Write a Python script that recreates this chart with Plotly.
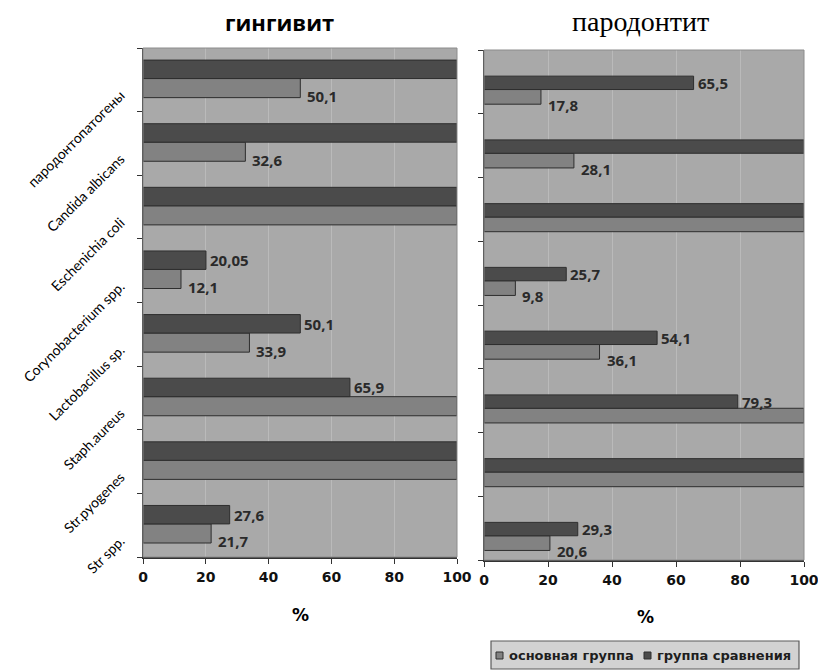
import plotly.graph_objects as go

# ---- data (bottom to top) ----
categories = ["Str spp.", "Str.pyogenes", "Staph.aureus", "Lactobacillus sp.",
              "Corynobacterium spp.", "Eschenichia coli", "Candida albicans",
              "пародонтопатогены"]
series_names = ["основная группа", "группа сравнения"]

ging_main = [21.7, 100, 100, 33.9, 12.1, 100, 32.6, 50.1]
ging_comp = [27.6, 100, 65.9, 50.1, 20.05, 100, 100, 100]
ging_comp_txt = ["27,6", "", "65,9", "50,1", "20,05", "", "", ""]
ging_main_txt = ["21,7", "", "", "33,9", "12,1", "", "32,6", "50,1"]

par_main = [20.6, 100, 100, 36.1, 9.8, 100, 28.1, 17.8]
par_comp = [29.3, 100, 79.3, 54.1, 25.7, 100, 100, 65.5]
par_comp_txt = ["29,3", "", "79,3", "54,1", "25,7", "", "", "65,5"]
par_main_txt = ["20,6", "", "", "36,1", "9,8", "", "28,1", "17,8"]

x_ticks = [0, 20, 40, 60, 80, 100]
titles = ["гингивит", "пародонтит"]
x_title = "%"

# ---- style / geometry (screen pixels; body margin removed by post_script) ----
W, H = 818, 672
LIGHT = "#828282"
DARK = "#4b4b4b"
EDGE = "#2e2e2e"
BG = "#a9a9a9"
GRID = "#bababa"


def fx(px):
    return px / W


def fy(py):
    return 1 - py / H


fig = go.Figure()

panels = [
    dict(main=ging_main, comp=ging_comp, mt=ging_main_txt, ct=ging_comp_txt,
         xa="x", ya="y", dom_x=[fx(143), fx(457)], dom_y=[fy(557), fy(48)],
         comp_off=0.02, comp_w=0.29, main_off=-0.28, main_w=0.30),
    dict(main=par_main, comp=par_comp, mt=par_main_txt, ct=par_comp_txt,
         xa="x2", ya="y2", dom_x=[fx(484), fx(804)], dom_y=[fy(560), fy(50)],
         comp_off=-0.12, comp_w=0.21, main_off=-0.35, main_w=0.23),
]

LABEL_FONT = dict(family="Open Sans", size=15, color="#2a2a2a", weight="bold")

annotations = []
for p in panels:
    fig.add_trace(go.Bar(
        y=categories, x=p["main"], orientation="h", name=series_names[0],
        marker=dict(color=LIGHT, line=dict(color=EDGE, width=1)),
        offset=p["main_off"], width=p["main_w"], xaxis=p["xa"], yaxis=p["ya"],
        showlegend=False))
    fig.add_trace(go.Bar(
        y=categories, x=p["comp"], orientation="h", name=series_names[1],
        marker=dict(color=DARK, line=dict(color=EDGE, width=1)),
        offset=p["comp_off"], width=p["comp_w"], xaxis=p["xa"], yaxis=p["ya"],
        showlegend=False))
    cat_px = (p["dom_y"][1] - p["dom_y"][0]) * H / len(categories)
    comp_c = (p["comp_off"] + p["comp_w"] / 2) * cat_px
    main_c = (p["main_off"] + p["main_w"] / 2) * cat_px - 8
    for cat, v, t in zip(categories, p["comp"], p["ct"]):
        if t:
            annotations.append(dict(x=v, y=cat, xref=p["xa"], yref=p["ya"], text=t,
                                    showarrow=False, xanchor="left", yanchor="middle",
                                    xshift=2, yshift=comp_c, font=LABEL_FONT))
    for cat, v, t in zip(categories, p["main"], p["mt"]):
        if t:
            annotations.append(dict(x=v, y=cat, xref=p["xa"], yref=p["ya"], text=t,
                                    showarrow=False, xanchor="left", yanchor="middle",
                                    xshift=5, yshift=main_c, font=LABEL_FONT))

# titles and axis titles
annotations.append(dict(text=titles[0], x=fx(279), y=fy(22), xref="paper", yref="paper",
                        showarrow=False, xanchor="center", yanchor="middle",
                        font=dict(family="Open Sans", size=22, color="black", weight="bold")))
annotations.append(dict(text=titles[1], x=fx(640), y=fy(21), xref="paper", yref="paper",
                        showarrow=False, xanchor="center", yanchor="middle",
                        font=dict(family="Liberation Serif", size=28, color="black")))
for cx, cy in [(300, 615), (645, 617)]:
    annotations.append(dict(text=x_title, x=fx(cx), y=fy(cy), xref="paper", yref="paper",
                            showarrow=False, xanchor="center", yanchor="middle",
                            font=dict(family="DejaVu Sans", size=17, color="black", weight="bold")))

# manual legend (box, swatches, texts)
LEG_FONT = dict(family="DejaVu Sans", size=13, color="#1e1e1e", weight="bold")
annotations.append(dict(text=series_names[0], x=fx(507), y=fy(655), xref="paper", yref="paper",
                        showarrow=False, xanchor="left", yanchor="middle", font=LEG_FONT))
annotations.append(dict(text=series_names[1], x=fx(655), y=fy(655), xref="paper", yref="paper",
                        showarrow=False, xanchor="left", yanchor="middle", font=LEG_FONT))

shapes = [
    dict(type="rect", xref="paper", yref="paper", x0=fx(491), x1=fx(799), y0=fy(669), y1=fy(641),
         fillcolor="#d2d2d2", line=dict(color="#5a5a5a", width=1.2)),
    dict(type="rect", xref="paper", yref="paper", x0=fx(496), x1=fx(503), y0=fy(659), y1=fy(652),
         fillcolor=LIGHT, line=dict(color=EDGE, width=1)),
    dict(type="rect", xref="paper", yref="paper", x0=fx(644), x1=fx(651), y0=fy(659), y1=fy(652),
         fillcolor=DARK, line=dict(color=EDGE, width=1)),
]
for p in panels:
    shapes.append(dict(type="rect", xref=p["xa"] + " domain", yref=p["ya"] + " domain",
                       x0=0, x1=1, y0=0, y1=1, line=dict(color="#8c8c8c", width=1), layer="above"))

xaxis_common = dict(range=[0, 100], tickvals=x_ticks, ticks="outside", ticklen=5,
                    tickcolor="#333", showline=True, linecolor="#333", linewidth=1.5,
                    showgrid=True, gridcolor=GRID, gridwidth=1, zeroline=False,
                    ticklabelstandoff=2, ticklabeloverflow="allow",
                    tickfont=dict(family="DejaVu Sans", size=14, color="#111", weight="bold"),
                    fixedrange=True, automargin=False)
yaxis_common = dict(type="category", categoryorder="array", categoryarray=categories,
                    range=[-0.5, len(categories) - 0.5], tickson="boundaries",
                    ticks="outside", ticklen=5, tickcolor="#333", showline=True,
                    linecolor="#333", linewidth=1.5, showgrid=False, zeroline=False,
                    fixedrange=True, automargin=False)

fig.update_layout(
    width=W, height=H,
    margin=dict(l=0, r=0, t=0, b=0, autoexpand=False),
    paper_bgcolor="white", plot_bgcolor=BG,
    barmode="overlay",
    xaxis=dict(domain=panels[0]["dom_x"], anchor="y", **xaxis_common),
    yaxis=dict(domain=panels[0]["dom_y"], anchor="x", tickangle=-45,
               ticklabelstandoff=18, ticklabelshift=14,
               tickfont=dict(family="Lato", size=14, color="black"), **yaxis_common),
    xaxis2=dict(domain=panels[1]["dom_x"], anchor="y2", **xaxis_common),
    yaxis2=dict(domain=panels[1]["dom_y"], anchor="x2", showticklabels=False, **yaxis_common),
    annotations=annotations,
    shapes=shapes,
    showlegend=False,
)

fig.write_html("out.html", config={"displayModeBar": False, "staticPlot": True},
               post_script="document.body.style.margin='0px';document.body.style.overflow='hidden';")
